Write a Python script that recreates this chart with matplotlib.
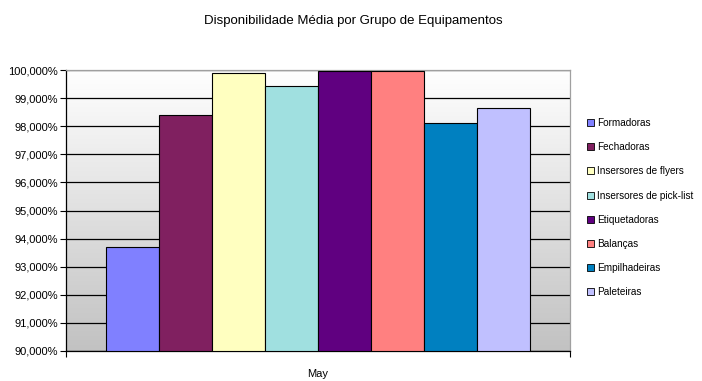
import matplotlib
matplotlib.use("Agg")
import matplotlib.pyplot as plt
import numpy as np
from matplotlib.patches import Patch
from matplotlib.ticker import FuncFormatter, FixedLocator

plt.rcParams['font.family'] = ['Liberation Sans Narrow', 'Liberation Sans', 'DejaVu Sans']

title = "Disponibilidade Média por Grupo de Equipamentos"
category = "May"
series = ["Formadoras", "Fechadoras", "Insersores de flyers", "Insersores de pick-list",
          "Etiquetadoras", "Balanças", "Empilhadeiras", "Paleteiras"]
values = [93.69, 98.39, 99.90, 99.43, 99.95, 99.95, 98.12, 98.65]
colors = ["#8080FF", "#802060", "#FFFFC0", "#A0E0E0", "#600080", "#FF8080", "#0080C0", "#C0C0FF"]
yticks = [90, 91, 92, 93, 94, 95, 96, 97, 98, 99, 100]

fig = plt.figure(figsize=(7.02, 3.81), dpi=100)
ax = fig.add_axes([66/702, 1 - 351/381, (570 - 66)/702, (351 - 70)/381])

# gradient background
grad = np.linspace(1, 0, 256).reshape(-1, 1)
top = np.array([1.0, 1.0, 1.0])
bot = np.array([0.76, 0.76, 0.76])
img = top[None, None, :] * (1 - grad[:, :, None]) + bot[None, None, :] * grad[:, :, None]
img = img[::-1]
ax.imshow(img, extent=[0, 1, 0, 1], transform=ax.transAxes, aspect='auto', zorder=0)

n = len(series)
gap = 1.5
w = 1.0 / (n + gap)
for i, (s, v, c) in enumerate(zip(series, values, colors)):
    x = 0.5 + (i - (n - 1) / 2) * w
    ax.bar(x, v - 90, bottom=90, width=w, color=c, edgecolor='black', linewidth=0.8, zorder=3, label=s)

ax.set_xlim(0, 1)
ax.set_ylim(90, 100)
ax.set_yticks(yticks)
ax.yaxis.set_major_formatter(FuncFormatter(lambda v, p: f"{v:.3f}".replace('.', ',') + "%"))
ax.yaxis.grid(True, color='black', linewidth=0.9, zorder=1)
ax.set_axisbelow(True)
ax.tick_params(axis='y', direction='out', length=4, width=0.8, labelsize=8, pad=2, colors='black')

ax.set_xticks([0, 1])
ax.set_xticklabels(['', ''])
ax.xaxis.set_minor_locator(FixedLocator([0.5]))
ax.set_xticklabels([category], minor=True)
ax.tick_params(axis='x', which='major', direction='out', length=4, width=0.8)
ax.tick_params(axis='x', which='minor', length=0, labelsize=8, pad=13)

for sp in ['left', 'bottom']:
    ax.spines[sp].set_color('black')
    ax.spines[sp].set_linewidth(0.9)
for sp in ['top', 'right']:
    ax.spines[sp].set_color('#a0a0a0')
    ax.spines[sp].set_linewidth(0.9)

fig.text(353/702, 1 - 21/381, title, ha='center', va='center', fontsize=9.5)

handles = [Patch(facecolor=c, edgecolor='black', linewidth=0.6) for c in colors]
fig.legend(handles, series, loc='upper left', bbox_to_anchor=(587/702, 1 - 118/381),
           frameon=False, fontsize=7.2, handlelength=0.7, handleheight=0.7,
           handletextpad=0.3, labelspacing=1.42, borderaxespad=0, borderpad=0)

fig.savefig("out.png", dpi=100)
